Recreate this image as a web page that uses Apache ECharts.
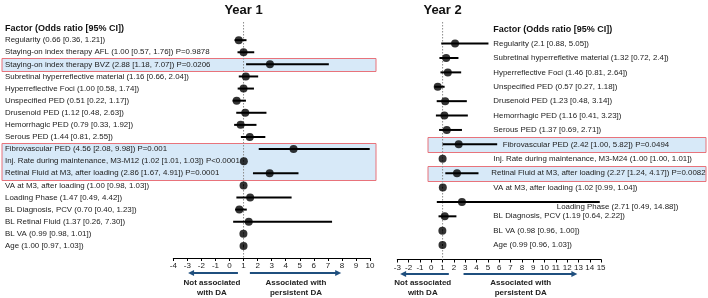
<!DOCTYPE html>
<html>
<head>
<meta charset="UTF-8" />
<title>Year 1 / Year 2 odds ratios</title>
<script src="https://cdn.jsdelivr.net/npm/echarts@6/dist/echarts.min.js"></script>
</head>
<body style="margin: 0">
<div id="main" style="width: 708px; height: 298px"></div>
<script type="text/javascript">
var header = 'Factor (Odds ratio [95% CI])';
var titles = ['Year 1', 'Year 2'];

// Year 1
var y1Labels = [
    'Regularity (0.66 [0.36, 1.21])',
    'Staying-on index therapy AFL (1.00 [0.57, 1.76]) P=0.9878',
    'Staying-on index therapy BVZ (2.88 [1.18, 7.07]) P=0.0206',
    'Subretinal hyperreflective material (1.16 [0.66, 2.04])',
    'Hyperreflective Foci (1.00 [0.58, 1.74])',
    'Unspecified PED (0.51 [0.22, 1.17])',
    'Drusenoid PED (1.12 [0.48, 2.63])',
    'Hemorrhagic PED (0.79 [0.33, 1.92])',
    'Serous PED (1.44 [0.81, 2.55])',
    'Fibrovascular PED (4.56 [2.08, 9.98]) P=0.001',
    'Inj. Rate during maintenance, M3-M12 (1.02 [1.01, 1.03]) P<0.0001',
    'Retinal Fluid at M3, after loading (2.86 [1.67, 4.91]) P=0.0001',
    'VA at M3, after loading (1.00 [0.98, 1.03])',
    'Loading Phase (1.47 [0.49, 4.42])',
    'BL Diagnosis, PCV (0.70 [0.40, 1.23])',
    'BL Retinal Fluid (1.37 [0.26, 7.30])',
    'BL VA (0.99 [0.98, 1.01])',
    'Age (1.00 [0.97, 1.03])'
];
var y1OR   = [0.66, 1.00, 2.88, 1.16, 1.00, 0.51, 1.12, 0.79, 1.44, 4.56, 1.02, 2.86, 1.00, 1.47, 0.70, 1.37, 0.99, 1.00];
var y1Low  = [0.36, 0.57, 1.18, 0.66, 0.58, 0.22, 0.48, 0.33, 0.81, 2.08, 1.01, 1.67, 0.98, 0.49, 0.40, 0.26, 0.98, 0.97];
var y1High = [1.21, 1.76, 7.07, 2.04, 1.74, 1.17, 2.63, 1.92, 2.55, 9.98, 1.03, 4.91, 1.03, 4.42, 1.23, 7.30, 1.01, 1.03];
var y1Boxes = [[2, 2], [9, 11]];
var y1Range = [-4, 10];

// Year 2
var y2Labels = [
    'Regularity (2.1 [0.88, 5.05])',
    'Subretinal hyperrefletive material (1.32 [0.72, 2.4])',
    'Hyperreflective Foci (1.46 [0.81, 2.64])',
    'Unspecified PED (0.57 [0.27, 1.18])',
    'Drusenoid PED (1.23 [0.48, 3.14])',
    'Hemorrhagic PED (1.16 [0.41, 3.23])',
    'Serous PED (1.37 [0.69, 2.71])',
    'Fibrovascular PED (2.42 [1.00, 5.82]) P=0.0494',
    'Inj. Rate during maintenance, M3-M24 (1.00 [1.00, 1.01])',
    'Retinal Fluid at M3, after loading (2.27 [1.24, 4.17]) P=0.0082',
    'VA at M3, after loading (1.02 [0.99, 1.04])',
    'Loading Phase (2.71 [0.49, 14.88])',
    'BL Diagnosis, PCV (1.19 [0.64, 2.22])',
    'BL VA (0.98 [0.96, 1.00])',
    'Age (0.99 [0.96, 1.03])'
];
var y2OR   = [2.10, 1.32, 1.46, 0.57, 1.23, 1.16, 1.37, 2.42, 1.00, 2.27, 1.02, 2.71, 1.19, 0.98, 0.99];
var y2Low  = [0.88, 0.72, 0.81, 0.27, 0.48, 0.41, 0.69, 1.00, 1.00, 1.24, 0.99, 0.49, 0.64, 0.96, 0.96];
var y2High = [5.05, 2.40, 2.64, 1.18, 3.14, 3.23, 2.71, 5.82, 1.01, 4.17, 1.04, 14.88, 2.22, 1.00, 1.03];
var y2Boxes = [[7, 7], [9, 9]];
var y2Range = [-3, 15];
// label style per Year 2 row (labels sit inside the plot, some nudged)
var y2LabelStyle = ['n', 'n', 'n', 'n', 'n', 'n', 'n', 'f', 'n', 'r', 'n', 'l', 'n', 'n', 'n'];

// arrows under the axes (from -> to, in axis units) and note centres
var arrows1 = [[0.6, -2.95], [1.45, 7.95]];
var arrows2 = [[1.55, -2.75], [2.85, 12.9]];
var notes1 = [-1.25, 4.73];
var notes2 = [-0.75, 7.9];
var noteText = ['Not associated\nwith DA', 'Associated with\npersistent DA'];

var FONT = 'Liberation Sans, Arial, sans-serif';
var FS = 7.9;
var chart = echarts.init(document.getElementById('main'));

function ciData(lo, hi) {
    return lo.map(function (v, i) { return [v, hi[i], i]; });
}
function orData(or) {
    return or.map(function (v, i) { return [v, i]; });
}

function ciSeries(idx, lo, hi) {
    return {
        type: 'custom',
        xAxisIndex: idx, yAxisIndex: idx,
        data: ciData(lo, hi),
        encode: { x: [0, 1], y: 2 },
        z: 3,
        renderItem: function (params, api) {
            var a = api.coord([api.value(0), api.value(2)]);
            var b = api.coord([api.value(1), api.value(2)]);
            return {
                type: 'line',
                shape: { x1: a[0], y1: a[1], x2: b[0], y2: b[1] },
                style: { stroke: '#000', lineWidth: 2 }
            };
        }
    };
}

function xAxis(idx, range) {
    return {
        type: 'value', gridIndex: idx,
        min: range[0], max: range[1], interval: 1,
        axisLine: { onZero: false, lineStyle: { color: '#000', width: 1 } },
        axisTick: { length: 3, lineStyle: { color: '#000' } },
        axisLabel: { fontSize: 8, margin: 4, color: '#222', fontFamily: FONT },
        splitLine: { show: false }
    };
}

function yAxis(idx, n, label) {
    return {
        type: 'value', gridIndex: idx, inverse: true,
        min: -1.5, max: n, interval: 0.5,
        axisLine: { show: false, onZero: false }, axisTick: { show: false }, splitLine: { show: false },
        axisLabel: label
    };
}

function rowOf(v) {
    return Math.round(v * 2) / 2;
}

var option = {
    animation: false,
    grid: [
        { left: 173.3, width: 196.7, top: 22, height: 236 },
        { left: 397.3, width: 204.4, top: 22, height: 237.5 }
    ],
    xAxis: [xAxis(0, y1Range), xAxis(1, y2Range)],
    yAxis: [
        yAxis(0, y1Labels.length, {
            align: 'left', margin: 168.3,
            fontSize: FS, color: '#222', fontFamily: FONT,
            showMinLabel: true, showMaxLabel: true,
            formatter: function (v) {
                var r = rowOf(v);
                if (r === -1) return '{h|' + header + '}';
                if (r % 1 === 0 && r >= 0 && r < y1Labels.length) return y1Labels[r];
                return '';
            },
            rich: { h: { fontSize: 9, fontWeight: 'bold', color: '#111', fontFamily: FONT } }
        }),
        yAxis(1, y2Labels.length, {
            inside: true, margin: 94,
            fontSize: FS, color: '#222', fontFamily: FONT,
            showMinLabel: true, showMaxLabel: true,
            formatter: function (v) {
                var r = rowOf(v);
                if (r === -1) return '{h|' + header + '}';
                if (r % 1 === 0 && r >= 0 && r < y2Labels.length) return '{' + y2LabelStyle[r] + '|' + y2Labels[r] + '}';
                return '';
            },
            rich: {
                h: { fontSize: 9, fontWeight: 'bold', color: '#111', fontFamily: FONT, padding: [0, 0, 0, 2] },
                n: { fontSize: FS, color: '#222', fontFamily: FONT, padding: [0, 0, 0, 2] },
                f: { fontSize: FS, color: '#222', fontFamily: FONT, padding: [0, 0, 0, 11.4] },
                r: { fontSize: FS, color: '#222', fontFamily: FONT, padding: [0, 0, 0, 0] },
                l: { fontSize: FS, color: '#222', fontFamily: FONT, width: 187, align: 'right', padding: [10, 0, 0, 0] }
            }
        })
    ],
    series: [
        {
            type: 'line', xAxisIndex: 0, yAxisIndex: 0, symbol: 'none', z: 1,
            data: [[1, -1.5], [1, y1Labels.length]],
            lineStyle: { color: '#8c8c8c', width: 1, type: [1.5, 1.5] }
        },
        {
            type: 'line', xAxisIndex: 1, yAxisIndex: 1, symbol: 'none', z: 1,
            data: [[1, -1.5], [1, y2Labels.length]],
            lineStyle: { color: '#8c8c8c', width: 1, type: [1.5, 1.5] }
        },
        ciSeries(0, y1Low, y1High),
        ciSeries(1, y2Low, y2High),
        {
            type: 'scatter', xAxisIndex: 0, yAxisIndex: 0, z: 4,
            symbolSize: 8, itemStyle: { color: '#000' },
            data: orData(y1OR)
        },
        {
            type: 'scatter', xAxisIndex: 1, yAxisIndex: 1, z: 4,
            symbolSize: 8, itemStyle: { color: '#000' },
            data: orData(y2OR)
        }
    ]
};
chart.setOption(option);

// highlight boxes, titles, arrows and notes placed from the axes
function px(g, x, y) {
    return chart.convertToPixel({ gridIndex: g }, [x, y]);
}
var graphics = [];
function addBoxes(g, boxes, x0, x1) {
    boxes.forEach(function (b) {
        var top = px(g, 0, b[0] - 0.52)[1];
        var bot = px(g, 0, b[1] + 0.52)[1];
        graphics.push({
            type: 'rect', z: -1, silent: true,
            shape: { x: x0, y: Math.round(top) + 0.5, width: x1 - x0, height: Math.round(bot - top) },
            style: { fill: '#d7e9f8', stroke: '#e8737b', lineWidth: 1 }
        });
    });
}
function addArrow(g, a, y) {
    var x0 = px(g, a[0], 0)[0];
    var x1 = px(g, a[1], 0)[0];
    var d = x1 > x0 ? -1 : 1;
    graphics.push({
        type: 'line', shape: { x1: x0, y1: y, x2: x1 + d * 4, y2: y },
        style: { stroke: '#1f4f7e', lineWidth: 1.8 }
    });
    graphics.push({
        type: 'polygon', shape: { points: [[x1, y], [x1 + d * 6, y - 3], [x1 + d * 6, y + 3]] },
        style: { fill: '#1f4f7e' }
    });
}
function addNote(g, v, text) {
    graphics.push({
        type: 'text', x: px(g, v, 0)[0], y: 278,
        style: {
            text: text, font: 'bold 8px ' + FONT, fill: '#222',
            align: 'center', verticalAlign: 'top', lineHeight: 10
        }
    });
}
function addTitle(g, text) {
    graphics.push({
        type: 'text', x: px(g, 1, 0)[0], y: 10,
        style: { text: text, font: 'bold 13px ' + FONT, fill: '#111', align: 'center', verticalAlign: 'middle' }
    });
}

addBoxes(0, y1Boxes, 2, 376);
addBoxes(1, y2Boxes, 428, 706);
addTitle(0, titles[0]);
addTitle(1, titles[1]);
arrows1.forEach(function (a) { addArrow(0, a, 273); });
arrows2.forEach(function (a) { addArrow(1, a, 274); });
notes1.forEach(function (v, i) { addNote(0, v, noteText[i]); });
notes2.forEach(function (v, i) { addNote(1, v, noteText[i]); });

chart.setOption({ graphic: graphics });
</script>
</body>
</html>
